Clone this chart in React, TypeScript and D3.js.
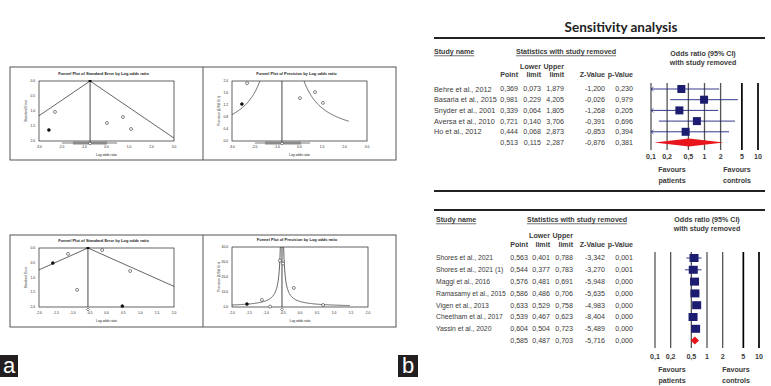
import React from 'react';
import * as d3 from 'd3';

const W = 771;
const H = 386;

// sensitivity analysis, upper table
const names1 = ['Behre et al., 2012', 'Basaria et al., 2015', 'Snyder et al., 2001', 'Aversa et al., 2010', 'Ho et al., 2012'];
const point1 = [0.369, 0.981, 0.339, 0.721, 0.444];
const lower1 = [0.073, 0.229, 0.064, 0.14, 0.068];
const upper1 = [1.879, 4.205, 1.805, 3.706, 2.873];
const z1 = [-1.2, -0.026, -1.268, -0.391, -0.853];
const p1 = [0.23, 0.979, 0.205, 0.696, 0.394];
const summary1 = [0.513, 0.115, 2.287, -0.876, 0.381];

// sensitivity analysis, lower table
const names2 = ['Shores et al., 2021', 'Shores et al., 2021 (1)', 'Maggi et al., 2016', 'Ramasamy et al., 2015', 'Vigen et al., 2013', 'Cheetham et al., 2017', 'Yassin et al., 2020'];
const point2 = [0.563, 0.544, 0.576, 0.586, 0.633, 0.539, 0.604];
const lower2 = [0.401, 0.377, 0.481, 0.486, 0.529, 0.467, 0.504];
const upper2 = [0.788, 0.783, 0.691, 0.706, 0.758, 0.623, 0.723];
const z2 = [-3.342, -3.27, -5.948, -5.635, -4.983, -8.404, -5.489];
const p2 = [0.001, 0.001, 0, 0, 0, 0, 0];
const summary2 = [0.585, 0.487, 0.703, -5.716, 0];

const orTicks = [0.1, 0.2, 0.5, 1, 2, 5, 10];
const orTickLabels = ['0,1', '0,2', '0,5', '1', '2', '5', '10'];

// funnel plots (panel a)
const f1X = [-2.29, -2.56, 0.02, 0.73, 1.09];
const f1Y = [1.03, 1.63, 1.4, 1.2, 1.6];
const f1Fill = [false, true, false, false, false];
const f2X = [-2.33, -2.56, 0.02, 0.69, 1.04];
const f2Y = [1.93, 1.23, 1.43, 1.63, 1.27];
const f2Fill = [false, true, false, false, false];
const f3X = [-1.14, -1.59, -0.87, -0.13, 0.7, 0.47];
const f3Y = [0.2, 0.51, 1.42, 0.07, 0.78, 1.97];
const f3Fill = [false, true, false, false, false, true];
const f4X = [-1.56, -1.12, -0.88, -0.59, -0.5, -0.18, 0.68];
const f4Y = [2, 4.7, 0.3, 31, 29, 12.7, 1.3];
const f4Fill = [true, false, false, false, false, false, false];

const ticksWide = [-3, -2, -1, 0, 1, 2, 3];
const ticksNarrow = [-2, -1.5, -1, -0.5, 0, 0.5, 1, 1.5, 2];

const SANS = 'Liberation Sans, Arial, sans-serif';
const fmt = (v: number) => d3.format('.3f')(v).replace('.', ',').replace('\u2212', '-');

function Forest({ names, point, lower, upper, z, p, summary, L }: any) {
  const x = d3.scaleLog().domain([0.1, 10]).range([L.x0, L.x1]);
  const rowY = (i: number) => L.row0 + i * L.step;
  const n = names.length;
  const cols = [point, lower, upper, z, p];
  return (
    <g fontFamily={SANS} fontSize={7.1} fill="#3a3a3a">
      <line x1={434} x2={765} y1={L.top} y2={L.top} stroke="#222" strokeWidth={1.8} />
      {L.bottom && <line x1={434} x2={765} y1={L.bottom} y2={L.bottom} stroke="#222" strokeWidth={1.8} />}
      <text x={L.nameX} y={L.head} dy="0.35em" fontWeight="bold" textDecoration="underline">Study name</text>
      <text x={L.statX} y={L.head} dy="0.35em" fontWeight="bold" textDecoration="underline">Statistics with study removed</text>
      <text x={L.orX} y={L.or1} dy="0.35em" fontWeight="bold" textAnchor="middle">Odds ratio (95% CI)</text>
      <text x={L.orX} y={L.or1 + 9} dy="0.35em" fontWeight="bold" textAnchor="middle">with study removed</text>
      <text x={L.cols[1]} y={L.lu} dy="0.35em" fontWeight="bold" textAnchor="end">Lower</text>
      <text x={L.cols[2]} y={L.lu} dy="0.35em" fontWeight="bold" textAnchor="end">Upper</text>
      {['Point', 'limit', 'limit', 'Z-Value', 'p-Value'].map((h, j) => (
        <text key={j} x={L.cols[j]} y={L.ch} dy="0.35em" fontWeight="bold" textAnchor="end">{h}</text>
      ))}
      {names.map((nm: string, i: number) => (
        <text key={nm} x={L.nameX} y={rowY(i)} dy="0.35em" fontSize={L.nameFs}>{nm}</text>
      ))}
      {cols.map((c: number[], j: number) =>
        c.map((v, i) => (
          <text key={j + '-' + i} x={L.cols[j]} y={rowY(i)} dy="0.35em" textAnchor="end">{fmt(v)}</text>
        ))
      )}
      {summary.map((v: number, j: number) => (
        <text key={'s' + j} x={L.cols[j]} y={rowY(n)} dy="0.35em" textAnchor="end">{fmt(v)}</text>
      ))}
      {orTicks.map((t, k) => (
        <g key={t}>
          <line x1={x(t)} x2={x(t)} y1={L.lineTop} y2={L.lineBot}
            stroke={t >= 5 ? '#000' : '#555'} strokeWidth={t >= 5 ? 1.7 : 1.3} />
          <text x={x(t)} y={L.tick} dy="0.35em" textAnchor="middle" fontWeight="bold">{orTickLabels[k]}</text>
        </g>
      ))}
      {point.map((v: number, i: number) => {
        const lo = Math.max(lower[i], 0.1);
        const cy = rowY(i);
        return (
          <g key={'m' + i}>
            <line x1={x(lo)} x2={x(upper[i])} y1={cy} y2={cy} stroke="#1f1f80" strokeWidth={0.9} />
            {lower[i] < 0.1 && (
              <path d={`M${x(0.1) + 2.5},${cy - 2}L${x(0.1)},${cy}L${x(0.1) + 2.5},${cy + 2}`} fill="none" stroke="#1f1f80" strokeWidth={0.7} />
            )}
            <rect x={x(v) - L.sq / 2} y={cy - 4} width={L.sq} height={8} fill="#1c1c70" />
          </g>
        );
      })}
      <path
        d={`M${x(summary[1])},${rowY(n)}L${x(summary[0])},${rowY(n) - 4}L${x(summary[2])},${rowY(n)}L${x(summary[0])},${rowY(n) + 4}Z`}
        fill="#e8161c" />
      <text x={L.fav1} y={L.fav} dy="0.35em" textAnchor="middle" fontWeight="bold">Favours</text>
      <text x={L.fav1} y={L.fav + L.favGap} dy="0.35em" textAnchor="middle" fontWeight="bold">patients</text>
      <text x={L.fav2} y={L.fav} dy="0.35em" textAnchor="middle" fontWeight="bold">Favours</text>
      <text x={L.fav2} y={L.fav + L.favGap} dy="0.35em" textAnchor="middle" fontWeight="bold">controls</text>
    </g>
  );
}

function Funnel({ box, kind, xTicks, yTicks, xs, ys, filled, mu, title, ylab, bar, curveEnd, id }: any) {
  const x = d3.scaleLinear().domain([xTicks[0], xTicks[xTicks.length - 1]]).range([box.x0, box.x1]);
  const yMax = yTicks[yTicks.length - 1];
  const y = kind === 'se'
    ? d3.scaleLinear().domain([0, yMax]).range([box.y0, box.y1])
    : d3.scaleLinear().domain([0, yMax]).range([box.y1, box.y0]);
  const xMin = xTicks[0];
  const line = d3.line<[number, number]>().x(d => x(d[0])).y(d => y(d[1]));
  let funnel: string[] = [];
  if (kind === 'se') {
    funnel = [
      line([[mu, 0], [mu - 1.96 * yMax * 2, yMax * 2]]) as string,
      line([[mu, 0], [mu + 1.96 * yMax * 2, yMax * 2]]) as string,
    ];
  } else {
    const g = 1.96 / yMax;
    const left = d3.range(xMin, mu - g, 0.01).concat([mu - g]).map(v => [v, 1.96 / (mu - v)] as [number, number]);
    const right = d3.range(mu + g, curveEnd, 0.01).map(v => [v, 1.96 / (v - mu)] as [number, number]);
    funnel = [line(left) as string, line(right) as string];
  }
  const cx = (box.x0 + box.x1) / 2;
  const cy = (box.y0 + box.y1) / 2;
  return (
    <g fontFamily={SANS} fill="#222">
      <clipPath id={id}><rect x={box.x0} y={box.y0} width={box.x1 - box.x0} height={box.y1 - box.y0} /></clipPath>
      <text x={cx - 3} y={box.y0 - 6} textAnchor="middle" fontSize={4} fontWeight="bold">{title}</text>
      <g clipPath={`url(#${id})`}>
        {funnel.map((d, i) => <path key={i} d={d} fill="none" stroke="#222" strokeWidth={0.7} />)}
      </g>
      <line x1={x(mu)} x2={x(mu)} y1={box.y0} y2={box.y1 + (bar ? 1 : 0)} stroke="#333" strokeWidth={0.9} />
      <rect x={box.x0} y={box.y0} width={box.x1 - box.x0} height={box.y1 - box.y0} fill="none" stroke="#222" strokeWidth={0.7} />
      {bar && (
        <g>
          <line x1={x(bar[2])} x2={x(bar[3])} y1={box.y1 + 2} y2={box.y1 + 2} stroke="#222" strokeWidth={0.6} />
          <rect x={x(bar[0])} y={box.y1 + 0.5} width={x(bar[1]) - x(bar[0])} height={3} fill="#8a8a8a" />
        </g>
      )}
      {kind === 'se' && <rect x={x(mu) - 1.5} y={box.y0 - 1} width={3} height={2} fill="#111" />}
      <path d={`M${x(mu) - 1.5},${box.y1 + 2.5}l1.5,-1.5l1.5,1.5l-1.5,1.5z`} fill="#fff" stroke="#222" strokeWidth={0.5} />
      {xs.map((v: number, i: number) => (
        <circle key={i} cx={x(v)} cy={y(ys[i])} r={1.5} fill={filled[i] ? '#111' : '#fff'} stroke="#111" strokeWidth={0.5} />
      ))}
      {xTicks.map((t: number) => (
        <text key={t} x={x(t)} y={box.y1 + 7} textAnchor="middle" fontSize={3.3}>{d3.format('.1f')(t).replace('\u2212', '-')}</text>
      ))}
      {yTicks.map((t: number) => (
        <text key={t} x={box.x0 - 4} y={y(t)} dy="0.35em" textAnchor="end" fontSize={3.3}>{d3.format('.1f')(t)}</text>
      ))}
      <text x={cx} y={box.y1 + 15} textAnchor="middle" fontSize={3.3}>Log odds ratio</text>
      <text transform={`translate(${box.x0 - 12},${cy}) rotate(-90)`} textAnchor="middle" fontSize={3.3}>{ylab}</text>
    </g>
  );
}

const L1 = {
  top: 38, bottom: 191, nameX: 434, statX: 516, head: 52, orX: 703, or1: 54, lu: 67, ch: 75, nameFs: 7.3,
  row0: 89, step: 10.7, cols: [518, 541, 564, 605, 633], x0: 651, x1: 758,
  lineTop: 83, lineBot: 150, tick: 157, fav: 170, favGap: 11, fav1: 672, fav2: 737, sq: 8,
};
const L2 = {
  top: 210, bottom: 0, nameX: 436, statX: 527, head: 220, orX: 707, or1: 220, lu: 236, ch: 245, nameFs: 6.8,
  row0: 258, step: 11.8, cols: [528, 550, 573, 605, 633], x0: 655, x1: 759,
  lineTop: 252, lineBot: 348, tick: 357, fav: 370, favGap: 11, fav1: 672, fav2: 736, sq: 9,
};

export default function App() {
  return (
    <svg width={W} height={H} style={{ position: 'absolute', left: 0, top: 0, background: '#fff' }}>
      <rect width={W} height={H} fill="#fff" />
      {/* panel a */}
      <rect x={10} y={67} width={386} height={93} fill="none" stroke="#555" strokeWidth={1} />
      <line x1={203} x2={203} y1={67} y2={160} stroke="#555" strokeWidth={1} />
      <rect x={10} y={235} width={386} height={92} fill="none" stroke="#555" strokeWidth={1} />
      <line x1={203} x2={203} y1={235} y2={327} stroke="#555" strokeWidth={1} />
      <Funnel id="c1" box={{ x0: 39, x1: 174, y0: 81, y1: 141 }} kind="se" xTicks={ticksWide} yTicks={[0, 0.5, 1, 1.5, 2]}
        xs={f1X} ys={f1Y} filled={f1Fill} mu={-0.73} title="Funnel Plot of Standard Error by Log odds ratio"
        ylab="Standard Error" bar={[-1.49, 0.02, -1.98, 0.47]} />
      <Funnel id="c2" box={{ x0: 232, x1: 367, y0: 81, y1: 141 }} kind="prec" xTicks={ticksWide} yTicks={[0, 0.4, 0.8, 1.2, 1.6, 2]}
        xs={f2X} ys={f2Y} filled={f2Fill} mu={-0.78} title="Funnel Plot of Precision by Log odds ratio"
        ylab="Precision (1/Std Err)" bar={[-1.53, 0.07, -1.98, 0.47]} curveEnd={2.2} />
      <Funnel id="c3" box={{ x0: 39, x1: 174, y0: 248, y1: 307 }} kind="se" xTicks={ticksNarrow} yTicks={[0, 0.5, 1, 1.5, 2]}
        xs={f3X} ys={f3Y} filled={f3Fill} mu={-0.55} title="Funnel Plot of Standard Error by Log odds ratio"
        ylab="Standard Error" />
      <Funnel id="c4" box={{ x0: 232, x1: 368, y0: 247, y1: 307 }} kind="prec" xTicks={ticksNarrow} yTicks={[0, 10, 20, 30, 40]}
        xs={f4X} ys={f4Y} filled={f4Fill} mu={-0.53} title="Funnel Plot of Precision by Log odds ratio"
        ylab="Precision (1/Std Err)" curveEnd={1.47} />
      {/* panel b */}
      <text x={621} y={27} dy="0.35em" textAnchor="middle" fontFamily="Lato, 'Open Sans', sans-serif" fontWeight="bold" fontSize={13.5} fill="#222">Sensitivity analysis</text>
      <Forest names={names1} point={point1} lower={lower1} upper={upper1} z={z1} p={p1} summary={summary1} L={L1} />
      <Forest names={names2} point={point2} lower={lower2} upper={upper2} z={z2} p={p2} summary={summary2} L={L2} />
      {/* labels */}
      <rect x={0} y={355} width={18} height={22} fill="#231f20" />
      <text x={9} y={373} textAnchor="middle" fill="#fff" fontFamily={SANS} fontSize={22}>a</text>
      <rect x={398} y={355} width={20} height={22} fill="#231f20" />
      <text x={408} y={373} textAnchor="middle" fill="#fff" fontFamily={SANS} fontSize={22}>b</text>
    </svg>
  );
}
